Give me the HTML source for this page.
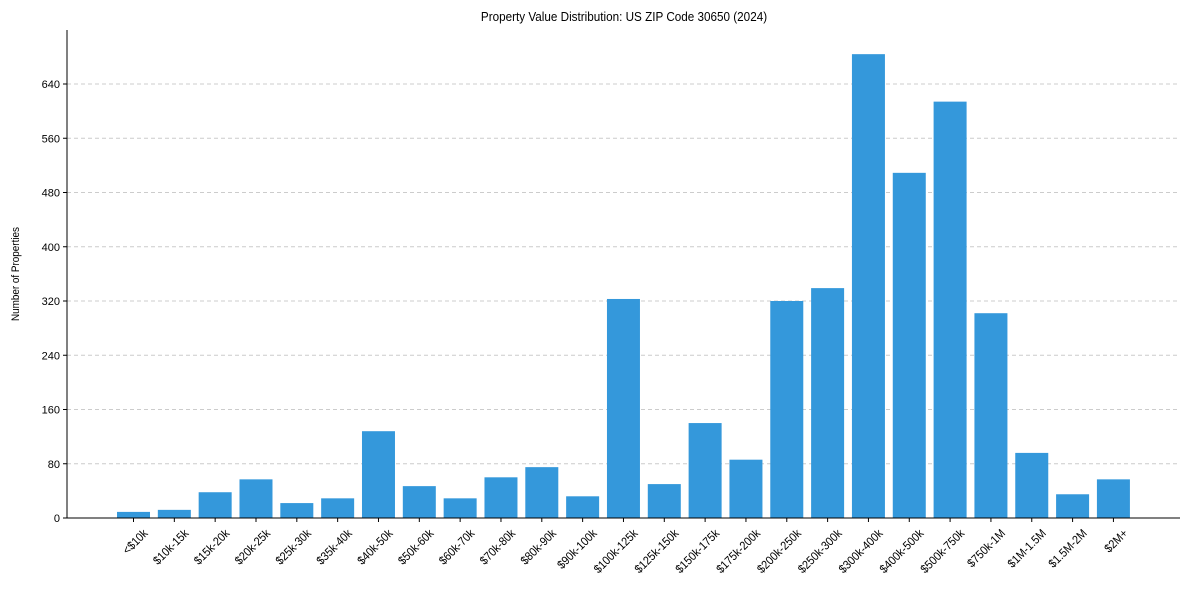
<!DOCTYPE html>
<html><head><meta charset="utf-8"><style>
body{margin:0;background:#fff;}
svg{display:block;font-family:"Liberation Sans",sans-serif;}
</style></head><body>
<svg id="chart" width="1189" height="590">
<text x="624" y="21" text-anchor="middle" font-size="13" transform="translate(624,0) scale(0.9,1) translate(-624,0)">Property Value Distribution: US ZIP Code 30650 (2024)</text>
<text transform="translate(19,274) rotate(-90) scale(0.9,1)" text-anchor="middle" font-size="11">Number of Properties</text>
<g id="grid"></g><g id="bars"></g><g id="axes"></g>
</svg>
<script>
const categories=["<$10k","$10k-15k","$15k-20k","$20k-25k","$25k-30k","$35k-40k","$40k-50k","$50k-60k","$60k-70k","$70k-80k","$80k-90k","$90k-100k","$100k-125k","$125k-150k","$150k-175k","$175k-200k","$200k-250k","$250k-300k","$300k-400k","$400k-500k","$500k-750k","$750k-1M","$1M-1.5M","$1.5M-2M","$2M+"];
const values=[9,12,38,57,22,29,128,47,29,60,75,32,323,50,140,86,320,339,684,509,614,302,96,35,57];
const yTicks=[0,80,160,240,320,400,480,560,640];
const NS="http://www.w3.org/2000/svg";
const x0=67,x1=1180,y0=518,yTop=30;
const y=v=>y0-v*(434/640);
const step=40.83,first=133.5,bw=33;
const xc=i=>first+i*step;
function mk(t,a,p){const e=document.createElementNS(NS,t);for(const k in a)e.setAttribute(k,a[k]);p.appendChild(e);return e;}
const grid=document.getElementById('grid'),bars=document.getElementById('bars'),axes=document.getElementById('axes');
yTicks.forEach(t=>{
 if(t>0){const g=mk('line',{x1:x0,x2:x1,y1:y(t),y2:y(t),stroke:'#ccc','stroke-dasharray':'4,3'},grid);
 
 }
 mk('line',{x1:x0-4,x2:x0,y1:y(t),y2:y(t),stroke:'#000'},axes);
 const l=mk('text',{x:x0-7,y:y(t)+4,'text-anchor':'end','font-size':'11'},axes);l.textContent=t;
 
 
});
values.forEach((v,i)=>{
 const r=mk('rect',{x:xc(i)-bw/2,y:y(v),width:bw,height:y0-y(v),fill:'#3498db'},bars);
 
 
 mk('line',{x1:xc(i),x2:xc(i),y1:y0,y2:y0+4,stroke:'#000'},axes);
 const l=mk('text',{'text-anchor':'end','font-size':'12',transform:`translate(${xc(i)+15},${y0+16}) rotate(-45) scale(0.9,1)`},axes);
 l.textContent=categories[i];
 
 
});
const ax=mk('line',{x1:x0,x2:x1,y1:y0,y2:y0,stroke:'#000'},axes);


const ay=mk('line',{x1:x0,x2:x0,y1:yTop,y2:y0,stroke:'#000'},axes);


</script>
</body></html>
